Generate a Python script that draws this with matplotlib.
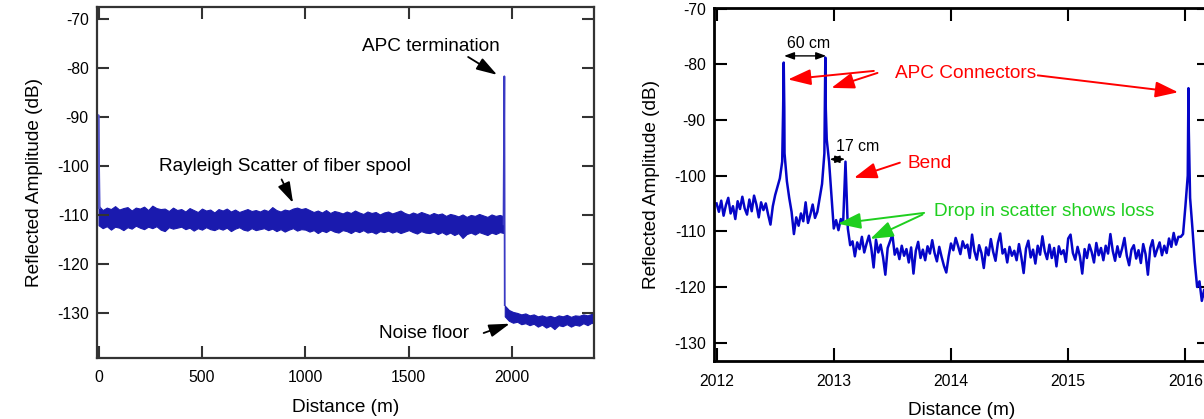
import numpy as np
import matplotlib
matplotlib.use("Agg")
import matplotlib.pyplot as plt

plt.rcParams['font.family'] = ['Liberation Sans', 'DejaVu Sans']
plt.rcParams['axes.unicode_minus'] = False

# ---------------- Full spool trace (left) ----------------
spool_x = np.arange(0, 1961, 20)          # m
spool_upper = [
    -108.0, -108.9, -108.4, -108.7, -108.1, -108.8, -108.5, -108.3, -109.0, -108.4,
    -108.6, -108.2, -108.9, -108.0, -108.5, -108.7, -108.6, -109.1, -108.4, -108.9,
    -108.7, -109.2, -108.5, -108.9, -109.3, -108.6, -109.0, -108.8, -109.4, -108.7,
    -109.0, -108.6, -109.2, -108.8, -109.3, -109.0, -108.7, -109.1, -108.9, -109.2,
    -108.8, -109.1, -108.3, -108.9, -109.2, -108.8, -109.0, -108.6, -108.4, -108.7,
    -108.5, -108.9, -109.3, -109.0, -109.4, -108.9, -109.5, -109.1, -109.3, -109.6,
    -109.2, -109.5, -109.0, -109.4, -109.7, -109.2, -109.5, -109.3, -109.8, -109.4,
    -109.2, -109.6, -109.3, -109.0, -109.5, -109.8, -109.4, -109.7, -109.3, -109.6,
    -109.9, -109.5, -109.8, -109.6, -110.1, -109.7, -109.9, -110.2, -109.8, -110.3,
    -109.9, -110.1, -109.7, -110.0, -110.3, -109.8, -110.1, -109.9, -110.2]
spool_lower = [
    -112.0, -112.6, -112.2, -112.9, -112.3, -112.5, -113.0, -112.4, -112.7, -112.1,
    -112.5, -112.8, -112.3, -112.6, -112.2, -112.9, -113.2, -112.4, -112.7, -112.5,
    -112.3, -112.8, -112.5, -113.1, -112.6, -112.9, -112.4, -112.8, -113.0, -112.6,
    -112.9, -112.5, -113.2, -112.7, -112.4, -112.9, -113.1, -112.6, -113.0, -112.8,
    -112.6, -113.0, -112.7, -113.2, -112.8, -113.3, -112.9, -112.6, -113.1, -112.8,
    -112.9, -113.3, -113.0, -113.6, -113.1, -113.4, -112.9, -113.3, -113.5, -113.0,
    -113.2, -113.6, -113.1, -113.4, -113.0, -113.5, -113.3, -113.7, -113.2, -113.4,
    -113.1, -113.5, -113.2, -113.6, -113.3, -113.0, -113.4, -113.7, -113.2, -113.5,
    -113.6, -113.3, -113.8, -113.4, -113.9, -113.5, -114.0, -113.6, -114.6, -113.8,
    -113.5, -113.9, -113.4, -113.7, -114.0, -113.5, -113.8, -113.4, -113.6]

launch_x = [-2, 0, 2, 6]
launch_y = [-108.5, -89.5, -98.0, -108.5]
term_x = [1958, 1962, 1964]
term_y = [-111.8, -81.6, -128.3]

floor_x = np.arange(1964, 2405, 20)
floor_upper = [-128.4, -129.3, -129.7, -129.9, -130.2, -130.0, -130.4, -130.2, -130.6, -130.4,
               -130.7, -130.5, -130.8, -130.4, -130.6, -130.3, -130.7, -130.4, -130.5, -130.2,
               -130.4, -130.1, -130.3]
floor_lower = [-130.6, -131.5, -131.9, -131.7, -132.2, -132.0, -132.4, -132.1, -132.7, -132.3,
               -132.9, -132.5, -133.2, -132.4, -132.6, -132.2, -132.7, -132.3, -132.5, -132.0,
               -132.4, -131.9, -132.2]

left_yticks = [-70, -80, -90, -100, -110, -120, -130]
left_xticks = [0, 500, 1000, 1500, 2000]

# ---------------- Zoomed trace (right) ----------------
zoom_x = np.round(2012.0 + 0.02 * np.arange(211), 3)   # m
zoom_y = [
    -105.0, -106.5, -104.5, -107.2, -105.3, -104.0, -106.8, -105.5, -107.8, -104.6,
    -106.0, -103.8, -105.9, -107.0, -104.3, -106.4, -103.6, -105.2, -107.5, -104.8,
    -106.2, -105.0, -107.0, -108.8, -105.5, -103.5, -102.0, -100.5, -97.5, -96.0,
    -101.0, -104.0, -106.5, -110.5, -107.5, -109.0, -106.8, -108.2, -104.8, -108.5,
    -107.0, -105.2, -107.6, -106.5, -104.0, -101.5, -96.0, -93.5, -97.5, -103.5,
    -109.5, -108.0, -109.8, -107.8, -108.5, -97.5, -109.5, -112.5, -111.8, -114.5,
    -112.0, -113.2, -111.0, -113.8, -112.2, -110.8, -113.0, -116.5,
    -111.5, -113.8, -112.4, -114.6, -117.8, -113.0, -111.8, -110.6, -114.2, -113.1,
    -115.0, -112.6, -114.4, -113.2, -115.6, -112.9, -117.6, -113.5, -111.9, -114.8,
    -113.3, -115.2, -112.7, -114.0, -111.6, -113.9, -115.4, -112.8, -114.6, -116.2,
    -117.4, -114.5, -112.2, -113.4, -111.2, -112.6, -114.1, -111.8, -113.0, -112.4,
    -114.8, -110.6, -113.6, -115.1, -112.5, -113.9, -116.6, -112.9, -114.3, -111.4,
    -113.7, -115.3, -112.1, -110.4, -114.0, -113.2, -115.6, -112.8, -114.4, -113.5,
    -115.2, -112.3, -114.6, -117.5, -113.1, -111.7, -114.7, -113.3, -115.8, -112.6,
    -114.2, -110.9, -113.6, -115.0, -112.4, -114.8, -113.0, -116.3, -112.7, -114.1,
    -113.4, -115.5, -111.3, -110.6, -113.9, -115.1, -112.8, -114.5, -117.6, -113.2,
    -114.8, -112.4, -113.7, -115.6, -112.1, -114.3, -113.0, -115.2, -112.6, -114.0,
    -110.5, -113.5, -115.3, -112.7, -114.6, -113.1, -111.2, -114.4, -116.1, -113.3,
    -112.5, -114.9, -113.4, -115.7, -112.3, -114.1, -117.8, -113.0, -111.6, -114.5,
    -113.2, -112.0, -114.3, -112.6, -113.9, -111.3, -112.8, -110.3, -112.4, -111.0,
    -111.0, -110.5, -105.5, -100.0, -104.0, -109.5, -115.5, -120.0, -119.0, -122.5,
    -120.5, -123.8, -122.5]

# reflective peaks (connectors and bend tips)
peak_x = [2012.568, 2012.573, 2012.578, 2012.924, 2012.928, 2012.932,
          2016.023, 2016.026, 2016.029]
peak_y = [-88.0, -79.7, -88.0, -88.0, -78.8, -88.0, -92.0, -84.3, -92.0]

right_yticks = [-70, -80, -90, -100, -110, -120, -130]
right_xticks = [2012, 2013, 2014, 2015, 2016]

# ---------------- Figure ----------------
fig = plt.figure(figsize=(12.04, 4.19), dpi=100)
axL = fig.add_axes([0.0806, 0.1456, 0.4125, 0.8377])
axR = fig.add_axes([0.5930, 0.1384, 0.4120, 0.8425])

LABEL_FS = 13.7
TICK_FS = 11.3

def style_axes(ax, spine_color, spine_w, tick_len):
    for s in ax.spines.values():
        s.set_color(spine_color)
        s.set_linewidth(spine_w)
    ax.tick_params(direction='in', length=tick_len, width=1.5, color=spine_color,
                   top=True, right=True, labelsize=TICK_FS)
    ax.tick_params(axis='x', pad=9)
    ax.tick_params(axis='y', pad=6)

# left panel
blue_l = '#1a1aae'
axL.fill_between(spool_x, spool_lower, spool_upper, color=blue_l, lw=0.8,
                 edgecolor=blue_l)
axL.fill_between(floor_x, floor_lower, floor_upper, color=blue_l, lw=0.8,
                 edgecolor=blue_l)
axL.plot(launch_x, launch_y, color='#5a5ad0', lw=1.2)
axL.plot(term_x, term_y, color='#3a3ac4', lw=1.3)
axL.set_xlim(-7.3, 2394)
axL.set_ylim(-139.1, -67.45)
axL.set_xticks(left_xticks)
axL.set_yticks(left_yticks)
style_axes(axL, '#333333', 1.6, 8.5)
axL.set_xlabel('Distance (m)', fontsize=LABEL_FS, labelpad=10)
axL.set_ylabel('Reflected Amplitude (dB)', fontsize=LABEL_FS, labelpad=10)

arrow_k = dict(arrowstyle='-|>,head_length=0.9,head_width=0.28', color='black',
               lw=1.3, shrinkA=0, shrinkB=0, mutation_scale=14)
axL.text(1608, -75.6, 'APC termination', fontsize=LABEL_FS, ha='center', va='center')
axL.annotate('', xy=(1927, -81.3), xytext=(1787, -77.65), arrowprops=arrow_k)
axL.text(902, -100.1, 'Rayleigh Scatter of fiber spool', fontsize=LABEL_FS,
         ha='center', va='center')
axL.annotate('', xy=(940.5, -107.45), xytext=(885, -102.65), arrowprops=arrow_k)
axL.text(1574, -134.0, 'Noise floor', fontsize=LABEL_FS, ha='center', va='center')
axL.annotate('', xy=(1988, -132.1), xytext=(1862, -134.0), arrowprops=arrow_k)

# right panel
order = np.argsort(np.concatenate([zoom_x, peak_x]), kind='stable')
rx = np.concatenate([zoom_x, peak_x])[order]
ry = np.concatenate([zoom_y, peak_y])[order]
axR.plot(rx, ry, color='#0505c8', lw=1.8)
axR.set_xlim(2011.978, 2016.21)
axR.set_ylim(-133.3, -69.9)
axR.set_xticks(right_xticks)
axR.set_yticks(right_yticks)
style_axes(axR, 'black', 2.0, 9.5)
axR.set_xlabel('Distance (m)', fontsize=LABEL_FS, labelpad=10)
axR.set_ylabel('Reflected Amplitude (dB)', fontsize=LABEL_FS, labelpad=10)

dim_k = dict(arrowstyle='<|-|>,head_length=0.6,head_width=0.22', color='black',
             lw=1.0, shrinkA=0, shrinkB=0, mutation_scale=10)
axR.annotate('', xy=(2012.576, -78.5), xytext=(2012.935, -78.5), arrowprops=dim_k)
axR.text(2012.786, -76.36, '60 cm', fontsize=11.4, ha='center', va='center')
axR.annotate('', xy=(2012.965, -97.07), xytext=(2013.097, -97.07), arrowprops=dim_k)
axR.text(2013.204, -94.85, '17 cm', fontsize=11.4, ha='center', va='center')

red_k = dict(arrowstyle='-|>,head_length=1.0,head_width=0.35', color='#ff0000',
             lw=1.4, shrinkA=0, shrinkB=0, mutation_scale=14)
axR.text(2014.126, -81.6, 'APC Connectors', fontsize=LABEL_FS, color='#ff0000',
         ha='center', va='center')
axR.annotate('', xy=(2012.610, -82.73), xytext=(2013.342, -81.2), arrowprops=red_k)
axR.annotate('', xy=(2012.980, -84.25), xytext=(2013.373, -81.56), arrowprops=red_k)
axR.annotate('', xy=(2015.938, -85.03), xytext=(2014.740, -82.0), arrowprops=red_k)
axR.text(2013.819, -97.9, 'Bend', fontsize=LABEL_FS, color='#ff0000',
         ha='center', va='center')
axR.annotate('', xy=(2013.173, -100.4), xytext=(2013.564, -97.68), arrowprops=red_k)

green = '#1fcf1f'
green_k = dict(red_k, color=green)
axR.text(2014.796, -106.5, 'Drop in scatter shows loss', fontsize=LABEL_FS,
         color=green, ha='center', va='center')
axR.annotate('', xy=(2013.035, -108.64), xytext=(2013.771, -106.7), arrowprops=green_k)
axR.annotate('', xy=(2013.312, -111.37), xytext=(2013.757, -107.0), arrowprops=green_k)

fig.savefig('out.png', dpi=100)
